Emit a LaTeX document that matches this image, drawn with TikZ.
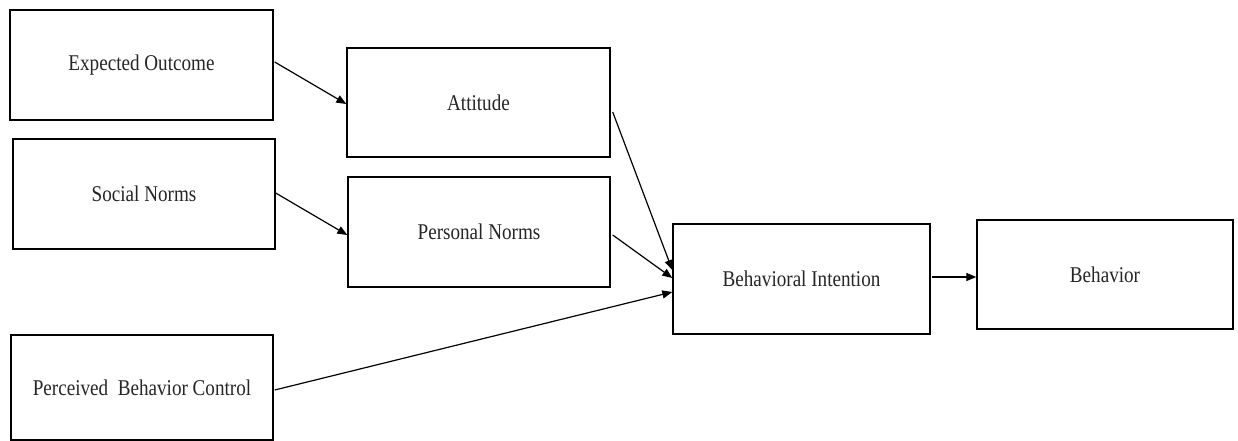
\documentclass[tikz,border=0pt]{standalone}
\usepackage{fontspec}
\setmainfont{Liberation Serif}
\usetikzlibrary{calc,arrows.meta}
\newcommand{\sq}[1]{\scalebox{0.85}[1]{#1}}
\tikzset{
  box/.style={draw=black, line width=1.4pt, inner sep=0pt, fill=white,
    font=\fontsize{22.5}{27}\selectfont, text=black!85},
  conn/.style={line width=1.2pt, -{Triangle[length=10pt,width=8pt]}, shorten >=0pt}
}
\begin{document}
\begin{tikzpicture}[x=1pt,y=-1pt]
\useasboundingbox (0,0) rectangle (1238,441);
\node[box, minimum width=263pt, minimum height=110pt] (eo)  at (141.5,65)   {\sq{Expected Outcome}};
\node[box, minimum width=263pt, minimum height=109pt] (att) at (478.5,102.5) {\sq{Attitude}};
\node[box, minimum width=262pt, minimum height=110pt] (sn)  at (144,194)    {\sq{Social Norms}};
\node[box, minimum width=262pt, minimum height=110pt] (pn)  at (479,232)    {\sq{Personal Norms}};
\node[box, minimum width=257pt, minimum height=110pt] (bi)  at (801.5,279)  {\sq{Behavioral Intention}};
\node[box, minimum width=256pt, minimum height=109pt] (beh) at (1105,274.5) {\sq{Behavior}};
\node[box, minimum width=262pt, minimum height=105pt] (pbc) at (142,387.5)  {\sq{Perceived\ \ Behavior Control}};
\draw[conn] ($(eo.east)+(1,-3)$) -- ($(att.west)+(0,1.5)$);
\draw[conn] ($(sn.east)+(0,-1)$) -- ($(pn.west)+(0,3)$);
\draw[conn] ($(att.east)+(2,9.5)$) -- ($(bi.west)+(0,-9)$);
\draw[conn] ($(pn.east)+(2,3)$) -- ($(bi.west)+(0,-1)$);
\draw[conn] ($(pbc.east)+(1,2.5)$) -- ($(bi.west)+(0,13)$);
\draw[conn] ($(bi.east)+(1,-2)$) -- ($(beh.west)+(0,2.5)$);
\end{tikzpicture}
\end{document}
